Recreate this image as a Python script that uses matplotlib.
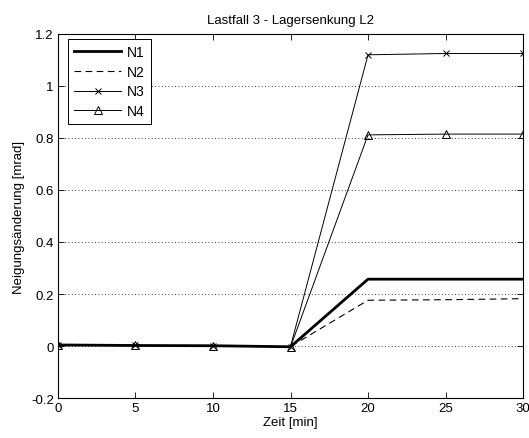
import numpy as np
import matplotlib.pyplot as plt
from matplotlib.ticker import FuncFormatter

plt.rcParams['font.family'] = ['Liberation Sans', 'DejaVu Sans']
plt.rcParams['font.size'] = 9.5

zeit = [0, 5, 10, 15, 20, 25, 30]
n1 = [0.004, 0.002, 0.001, -0.003, 0.257, 0.257, 0.257]
n2 = [0.003, 0.002, 0.000, -0.002, 0.176, 0.178, 0.182]
n3 = [0.003, 0.002, 0.000, -0.002, 1.120, 1.125, 1.125]
n4 = [0.003, 0.002, 0.000, -0.004, 0.812, 0.815, 0.815]

fig = plt.figure(figsize=(5.29, 4.39), dpi=100)
ax = fig.add_axes([0.1096, 0.0911, 0.8791, 0.8292])

ax.plot(zeit, n1, 'k-', lw=2.0, label='N1')
ax.plot(zeit, n2, 'k--', lw=0.8, dashes=(6, 4), label='N2')
ax.plot(zeit, n3, 'k-', lw=0.7, marker='x', ms=5, mew=0.7, label='N3')
ax.plot(zeit, n4, 'k-', lw=0.7, marker='^', ms=6, mfc='none', mew=0.7, label='N4')

ax.set_xlim(0, 30)
ax.set_ylim(-0.2, 1.2)
ax.set_xticks([0, 5, 10, 15, 20, 25, 30])
ax.set_yticks(np.arange(-0.2, 1.21, 0.2))
ax.yaxis.set_major_formatter(FuncFormatter(lambda v, p: '%g' % round(v, 2)))
ax.tick_params(direction='in', top=True, right=True, length=4, width=0.6, pad=3)
ax.yaxis.grid(True, linestyle=(0, (1, 3)), color='k', lw=0.6)
for s in ax.spines.values():
    s.set_linewidth(0.8)

ax.set_title('Lastfall 3 - Lagersenkung L2', fontsize=9.5, pad=8)
ax.set_xlabel('Zeit [min]', labelpad=1)
ax.set_ylabel('Neigungsänderung [mrad]', labelpad=4)

leg = ax.legend(loc='upper left', bbox_to_anchor=(0.021, 0.986), borderaxespad=0,
                fancybox=False, edgecolor='k', framealpha=1,
                fontsize=10, handlelength=3.4, handletextpad=0.4,
                borderpad=0.45, labelspacing=0.4)
leg.get_frame().set_linewidth(0.7)

fig.savefig('out.png', dpi=100)
